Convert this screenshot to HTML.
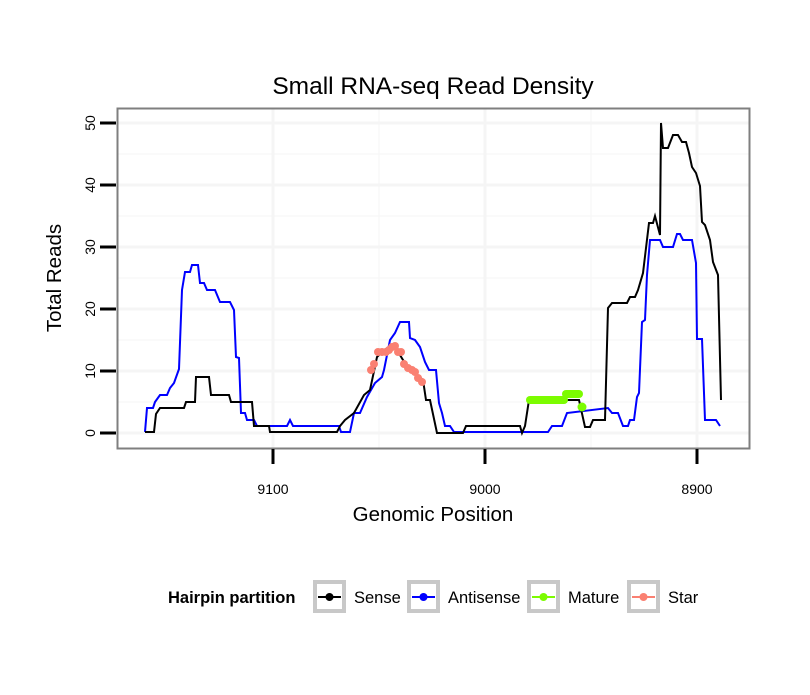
<!DOCTYPE html>
<html><head><style>body{margin:0;background:#fff}</style></head><body>
<svg width="810" height="690" xmlns="http://www.w3.org/2000/svg" font-family="Liberation Sans, sans-serif">
<rect width="810" height="690" fill="#fff"/>
<g stroke="#f8f8f8" stroke-width="1.5">
<line x1="117" x2="749" y1="402" y2="402"/><line x1="117" x2="749" y1="340" y2="340"/><line x1="117" x2="749" y1="278" y2="278"/><line x1="117" x2="749" y1="216" y2="216"/><line x1="117" x2="749" y1="154" y2="154"/>
<line x1="379" x2="379" y1="108" y2="448"/><line x1="591" x2="591" y1="108" y2="448"/>
</g>
<g stroke="#f5f5f5" stroke-width="3">
<line x1="117" x2="749" y1="433" y2="433"/><line x1="117" x2="749" y1="371" y2="371"/><line x1="117" x2="749" y1="309" y2="309"/><line x1="117" x2="749" y1="247" y2="247"/><line x1="117" x2="749" y1="185" y2="185"/><line x1="117" x2="749" y1="123" y2="123"/>
<line x1="273" x2="273" y1="108" y2="448"/><line x1="485" x2="485" y1="108" y2="448"/><line x1="697" x2="697" y1="108" y2="448"/>
</g>
<polyline fill="none" stroke="#0000ff" stroke-width="2" points="145,432 147,408 153,408 155,402 160,395 167,395 170,388 174,383 179,369 182,290 185,272 190,272 192,265 198,265 200,283 204,283 207,290 215,290 220,302 230,302 234,310 236,357 239,358 241,413 245,413 247,420 254,420 257,426 287,426 290,420 293,426 339,426 341,432 350,432 354,413 360,413 367,397 375,383 382,377 384,370 390,340 395,333 400,322 409,322 410,338 415,340 420,347 425,362 429,370 436,370 439,403 442,413 445,426 450,426 454,432 548,432 552,426 562,426 567,413 608,408 612,413 618,413 623,426 628,426 630,420 634,420 637,397 639,393 642,322 645,320 647,275 650,240 660,240 663,247 673,247 677,234 680,234 683,240 692,240 696,263 697,339 702,339 705,420 716,420 720,426"/>
<polyline fill="none" stroke="#000" stroke-width="2" points="145,432 154,432 156,414 160,408 184,408 186,402 195,402 196,377 209,377 211,395 229,395 231,402 252,402 254,426 269,426 270,432 337,432 340,426 345,420 354,413 364,395 370,390 377,357 384,350 390,347 397,350 403,360 410,368 423,380 426,400 430,400 437,433 463,433 466,426 520,426 522,433 525,426 529,400 579,400 585,427 590,427 593,420 605,420 608,308 612,303 627,303 630,297 635,297 638,290 643,273 649,223 653,223 655,216 660,235 661,123 663,148 668,148 673,135 678,135 682,142 686,142 689,153 692,167 696,173 700,186 702,222 705,225 710,240 713,262 718,275 721,400"/>
<g stroke="#7cfc00" stroke-width="8" stroke-linecap="round"><line x1="530" y1="400" x2="564" y2="400"/><line x1="566" y1="394" x2="579" y2="394"/></g>
<circle cx="582" cy="407" r="4.5" fill="#7cfc00"/>
<g fill="#fa8072">
<circle cx="371" cy="370" r="4"/><circle cx="374" cy="364" r="4"/><circle cx="378" cy="352" r="4"/><circle cx="382" cy="352" r="4"/><circle cx="386" cy="352" r="4"/><circle cx="389" cy="350" r="4"/><circle cx="392" cy="347" r="4"/><circle cx="395" cy="346" r="4"/><circle cx="398" cy="352" r="4"/><circle cx="401" cy="352" r="4"/><circle cx="404" cy="364" r="4"/><circle cx="408" cy="368" r="4"/><circle cx="412" cy="370" r="4"/><circle cx="415" cy="372" r="4"/><circle cx="418" cy="378" r="4"/><circle cx="422" cy="382" r="4"/>
</g>
<rect x="117.5" y="108.5" width="632" height="340" fill="none" stroke="#7f7f7f" stroke-width="2"/>
<g stroke="#000" stroke-width="3">
<line x1="100" x2="116" y1="433" y2="433"/><line x1="100" x2="116" y1="371" y2="371"/><line x1="100" x2="116" y1="309" y2="309"/><line x1="100" x2="116" y1="247" y2="247"/><line x1="100" x2="116" y1="185" y2="185"/><line x1="100" x2="116" y1="123" y2="123"/>
<line x1="273" x2="273" y1="449" y2="464"/><line x1="485" x2="485" y1="449" y2="464"/><line x1="697" x2="697" y1="449" y2="464"/>
</g>
<g font-size="14" text-anchor="middle" fill="#000">
<text transform="translate(95,433) rotate(-90)">0</text><text transform="translate(95,371) rotate(-90)">10</text><text transform="translate(95,309) rotate(-90)">20</text><text transform="translate(95,247) rotate(-90)">30</text><text transform="translate(95,185) rotate(-90)">40</text><text transform="translate(95,123) rotate(-90)">50</text>
<text x="273" y="494">9100</text><text x="485" y="494">9000</text><text x="697" y="494">8900</text>
</g>
<text x="433" y="94" font-size="24.5" text-anchor="middle">Small RNA-seq Read Density</text>
<text x="433" y="521" font-size="20.5" text-anchor="middle">Genomic Position</text>
<text transform="translate(61,278) rotate(-90)" font-size="20.5" text-anchor="middle">Total Reads</text>
<text x="168" y="603" font-size="16.5" font-weight="bold">Hairpin partition</text>
<g stroke="#c8c8c8" stroke-width="4" fill="none">
<rect x="315" y="582" width="29" height="29"/><rect x="409" y="582" width="29" height="29"/><rect x="529" y="582" width="29" height="29"/><rect x="629" y="582" width="29" height="29"/>
</g>
<g stroke-width="2">
<line x1="318" x2="341" y1="597" y2="597" stroke="#000"/><line x1="412" x2="435" y1="597" y2="597" stroke="#0000ff"/><line x1="532" x2="555" y1="597" y2="597" stroke="#7cfc00"/><line x1="632" x2="655" y1="597" y2="597" stroke="#fa8072"/>
</g>
<circle cx="329.5" cy="597" r="4" fill="#000"/><circle cx="423.5" cy="597" r="4" fill="#0000ff"/><circle cx="543.5" cy="597" r="4" fill="#7cfc00"/><circle cx="643.5" cy="597" r="4" fill="#fa8072"/>
<g font-size="16.5">
<text x="354" y="603">Sense</text><text x="448" y="603">Antisense</text><text x="568" y="603">Mature</text><text x="668" y="603">Star</text>
</g>
</svg>
</body></html>
